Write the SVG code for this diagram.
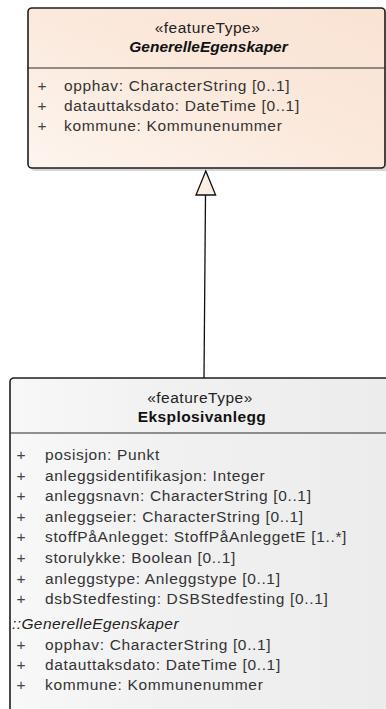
<svg xmlns="http://www.w3.org/2000/svg" width="386" height="709" viewBox="0 0 386 709">
<defs>
<linearGradient id="peach" x1="0" y1="1" x2="1" y2="0">
<stop offset="0" stop-color="#fdf5ef"/>
<stop offset="0.5" stop-color="#fbe9dc"/>
<stop offset="1" stop-color="#f9e3d3"/>
</linearGradient>
<linearGradient id="gray" x1="0" y1="0" x2="1" y2="0">
<stop offset="0" stop-color="#f8f8f8"/>
<stop offset="0.4" stop-color="#f1f1f1"/>
<stop offset="1" stop-color="#ececec"/>
</linearGradient>
</defs>
<style>
.box{stroke:#1e1e1e;stroke-width:1.6}
.div{stroke:#2a2a2a;stroke-width:1}
.shadow{fill:#bdbdbd;opacity:0.6}
text{font-family:"Liberation Sans",Arial,sans-serif;font-size:15.5px;fill:#333}
.st{text-anchor:middle;fill:#222;letter-spacing:0.5px}
.nm{text-anchor:middle;font-weight:bold;fill:#111;letter-spacing:0.4px}
.abs{font-style:italic;letter-spacing:0px}
.pl{text-anchor:middle;fill:#444}
.at{letter-spacing:0.65px}
.inh{font-style:italic;fill:#222;letter-spacing:0.4px}
.edge{stroke:#111;stroke-width:1.3;fill:none}
.gen{fill:#fbefe3;stroke:#111;stroke-width:1.3}
</style>
<g id="GenerelleEgenskaper">
<rect class="shadow" x="31" y="11" width="357" height="160" rx="4"/>
<rect class="box" x="28" y="8" width="357" height="160" rx="4" fill="url(#peach)"/>
<line class="div" x1="28" y1="68" x2="385" y2="68"/>
<text class="st" x="207.5" y="33">«featureType»</text>
<text class="nm abs" x="208.5" y="51.5">GenerelleEgenskaper</text>
<text class="pl" x="42" y="91">+</text><text class="at" x="64" y="91">opphav: CharacterString [0..1]</text>
<text class="pl" x="42" y="111">+</text><text class="at" x="64" y="111">datauttaksdato: DateTime [0..1]</text>
<text class="pl" x="42" y="131">+</text><text class="at" x="64" y="131">kommune: Kommunenummer</text>
</g>
<g id="Eksplosivanlegg">
<rect class="shadow" x="13" y="381" width="382" height="340" rx="4"/>
<rect class="box" x="10" y="378" width="382" height="340" rx="4" fill="url(#gray)"/>
<line class="div" x1="10" y1="433" x2="392" y2="433"/>
<text class="st" x="200" y="403">«featureType»</text>
<text class="nm" x="202" y="421.5">Eksplosivanlegg</text>
<text class="pl" x="21" y="460">+</text><text class="at" x="45" y="460">posisjon: Punkt</text>
<text class="pl" x="21" y="480.6">+</text><text class="at" x="45" y="480.6">anleggsidentifikasjon: Integer</text>
<text class="pl" x="21" y="501.2">+</text><text class="at" x="45" y="501.2">anleggsnavn: CharacterString [0..1]</text>
<text class="pl" x="21" y="521.8">+</text><text class="at" x="45" y="521.8">anleggseier: CharacterString [0..1]</text>
<text class="pl" x="21" y="542.4">+</text><text class="at" x="45" y="542.4">stoffPåAnlegget: StoffPåAnleggetE [1..*]</text>
<text class="pl" x="21" y="563">+</text><text class="at" x="45" y="563">storulykke: Boolean [0..1]</text>
<text class="pl" x="21" y="583.6">+</text><text class="at" x="45" y="583.6">anleggstype: Anleggstype [0..1]</text>
<text class="pl" x="21" y="604.2">+</text><text class="at" x="45" y="604.2">dsbStedfesting: DSBStedfesting [0..1]</text>
<text class="inh" x="12" y="629">::GenerelleEgenskaper</text>
<text class="pl" x="21" y="650">+</text><text class="at" x="45" y="650">opphav: CharacterString [0..1]</text>
<text class="pl" x="21" y="670">+</text><text class="at" x="45" y="670">datauttaksdato: DateTime [0..1]</text>
<text class="pl" x="21" y="690">+</text><text class="at" x="45" y="690">kommune: Kommunenummer</text>
</g>
<g id="connectors">
<line class="edge" x1="205.5" y1="195" x2="204" y2="378"/>
<polygon class="gen" points="205.8,171 196,195 215.6,195"/>
</g>
</svg>
